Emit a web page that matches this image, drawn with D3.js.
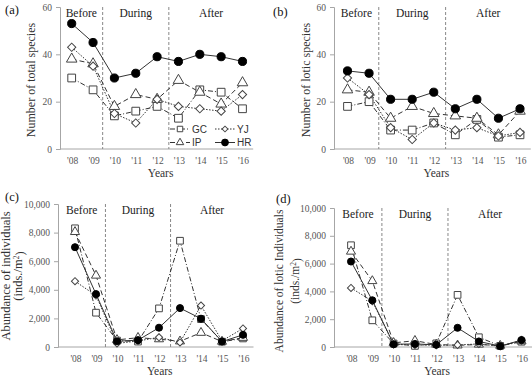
<!DOCTYPE html>
<html>
<head>
<meta charset="utf-8">
<script src="https://cdn.jsdelivr.net/npm/d3@7"></script>
<style>
  body { margin: 0; background: #fff; }
  svg { display: block; font-family: "Liberation Serif", "Times New Roman", serif; }
</style>
</head>
<body>
<svg id="chart" width="532" height="378"></svg>
<script>
const years = ["'08", "'09", "'10", "'11", "'12", "'13", "'14", "'15", "'16"];
const phases = ["Before", "During", "After"];
const phaseBreaks = [1.45, 4.55];
const siteNames = ["GC", "IP", "YJ", "HR"];

// (a) number of total species
const totalGC = [30, 25, 14, 16, 18, 13, 25, 24, 17];
const totalIP = [38, 36, 18, 23, 21, 29, 24, 19, 28];
const totalYJ = [43, 35, 15, 11, 21, 18, 17, 16, 23];
const totalHR = [53, 45, 30, 32, 39, 37, 40, 39, 37];

// (b) number of lotic species
const loticGC = [18, 20, 8, 8, 11, 6, 12.5, 5, 6];
const loticIP = [25, 24, 13, 18, 15, 14, 13, 6, 16];
const loticYJ = [30, 23, 9, 4, 11, 8, 9, 5.5, 7];
const loticHR = [33, 32, 21, 21, 24, 17, 21, 13, 17];

// (c) abundance of individuals
const abundGC = [8300, 2400, 450, 380, 2700, 7430, 1950, 370, 600];
const abundIP = [8050, 5000, 500, 650, 550, 400, 1000, 380, 650];
const abundYJ = [4600, 3600, 250, 420, 680, 320, 2900, 430, 1300];
const abundHR = [6980, 3700, 400, 480, 1350, 2720, 1980, 380, 850];

// (d) abundance of lotic individuals
const loticAbGC = [7320, 1920, 250, 80, 260, 3750, 700, 80, 380];
const loticAbIP = [6870, 4750, 300, 450, 180, 120, 180, 100, 420];
const loticAbYJ = [4250, 3300, 180, 150, 120, 150, 220, 60, 460];
const loticAbHR = [6150, 3360, 200, 220, 160, 1380, 400, 60, 500];

const styles = {
  GC: { dash: "5,2,1,2", symbol: "square" },
  IP: { dash: "5,3", symbol: "triangle" },
  YJ: { dash: "1.5,1.5", symbol: "diamond" },
  HR: { dash: null, symbol: "circle" }
};

const svg = d3.select("#chart");

function markerPath(kind, scale) {
  if (kind === "square") return d3.symbol(d3.symbolSquare, 60 * scale)();
  if (kind === "triangle") return d3.symbol(d3.symbolTriangle, 48 * scale)();
  if (kind === "diamond") return d3.symbol(d3.symbolSquare, 34 * scale)();
  return d3.symbol(d3.symbolCircle, 52 * scale)();
}

function drawPanel(p) {
  const g = svg.append("g");
  const x = d3.scaleLinear().domain([0, years.length - 1]).range([p.x0, p.x1]);
  const step = x(1) - x(0);
  const y = d3.scaleLinear().domain([0, p.max]).range([p.bottom, p.top]);

  // y axis
  const yAxis = d3.axisLeft(y).tickValues(d3.range(0, p.max + 1, p.tick))
    .tickSize(4).tickPadding(4).tickFormat(p.fmt);
  const ya = g.append("g").attr("transform", `translate(${p.left},0)`).call(yAxis)
    .attr("font-family", null).attr("font-size", null);
  ya.select(".domain").attr("stroke", "#a6a6a6");
  ya.selectAll(".tick line").attr("stroke", "#a6a6a6");
  ya.selectAll(".tick text").attr("fill", "#555").style("font-size", "9.5px");

  // x axis
  g.append("line").attr("x1", p.left).attr("x2", x(years.length - 1) + step / 2)
    .attr("y1", p.bottom).attr("y2", p.bottom).attr("stroke", "#a6a6a6");
  g.selectAll(".xt").data(years).join("text")
    .attr("x", (d, i) => x(i) + 1).attr("y", p.bottom + 15)
    .attr("text-anchor", "middle").attr("fill", "#555").style("font-size", "9.5px")
    .text(d => d);
  g.append("text").attr("x", (p.left + x(8) + step / 2) / 2 + 4).attr("y", p.bottom + 28)
    .attr("text-anchor", "middle").attr("fill", "#333").style("font-size", "11.5px").text("Years");

  // phase dividers
  phaseBreaks.forEach(b => {
    g.append("line").attr("x1", x(b)).attr("x2", x(b))
      .attr("y1", p.top).attr("y2", p.bottom)
      .attr("stroke", "#888").attr("stroke-dasharray", "3,2");
  });
  const bounds = [p.left, x(phaseBreaks[0]), x(phaseBreaks[1]), x(8) + step / 2];
  phases.forEach((ph, i) => {
    g.append("text").attr("x", (bounds[i] + bounds[i + 1]) / 2)
      .attr("y", p.top + 10).attr("text-anchor", "middle")
      .attr("fill", "#222").style("font-size", "11.5px").text(ph);
  });

  // y title (one text per line)
  p.title.forEach((t, i) => {
    const yt = g.append("text")
      .attr("transform", `translate(${p.titleX[i]},${p.titleY}) rotate(-90)`)
      .attr("text-anchor", "middle").attr("fill", "#333").style("font-size", p.titleSize);
    if (t.indexOf("m2") >= 0) {
      yt.append("tspan").text(t.replace("m2)", "m"));
      yt.append("tspan").attr("dy", "-0.4em").style("font-size", "7.5px").text("2");
      yt.append("tspan").attr("dy", "0.4em").text(")");
    } else yt.text(t);
  });

  // panel letter
  g.append("text").attr("x", p.labelX).attr("y", p.labelY).attr("fill", "#111")
    .style("font-size", "12.5px").text(p.letter);

  // series
  const line = d3.line().x((d, i) => x(i)).y(d => y(d));
  siteNames.forEach((s, k) => {
    const vals = p.series[k];
    g.append("path").datum(vals).attr("d", line).attr("fill", "none")
      .attr("stroke", "#333").attr("stroke-width", 1)
      .attr("stroke-dasharray", styles[s].dash);
  });
  siteNames.forEach((s, k) => {
    const vals = p.series[k];
    const st = styles[s];
    g.selectAll(".m" + s).data(vals).join("path")
      .attr("d", markerPath(st.symbol, p.mscale))
      .attr("transform", (d, i) => `translate(${x(i)},${y(d)})` + (st.symbol === "diamond" ? " rotate(45)" : ""))
      .attr("fill", st.symbol === "circle" ? "#000" : "#fff")
      .attr("stroke", st.symbol === "circle" ? "#000" : "#444").attr("stroke-width", 1);
  });
  return g;
}

drawPanel({ letter: "(a)", labelX: 5, labelY: 14, left: 60, top: 7, bottom: 149, x0: 71.7, x1: 242.5,
  max: 60, tick: 20, fmt: d3.format("d"), titleX: [35], titleY: 80, titleSize: "12px",
  title: ["Number of total species"], series: [totalGC, totalIP, totalYJ, totalHR], mscale: 1 });
drawPanel({ letter: "(b)", labelX: 273, labelY: 16, left: 334, top: 7, bottom: 149, x0: 347.5, x1: 520,
  max: 60, tick: 20, fmt: d3.format("d"), titleX: [310], titleY: 80, titleSize: "12px",
  title: ["Number of lotic species"], series: [loticGC, loticIP, loticYJ, loticHR], mscale: 1 });
drawPanel({ letter: "(c)", labelX: 5, labelY: 201, left: 58, top: 204, bottom: 347, x0: 75, x1: 243,
  max: 10000, tick: 2000, fmt: d3.format(","), titleX: [10, 22], titleY: 276, titleSize: "12.5px",
  title: ["Abundance of individuals", "(inds./m2)"],
  series: [abundGC, abundIP, abundYJ, abundHR], mscale: 0.75 });
drawPanel({ letter: "(d)", labelX: 276, labelY: 203, left: 334, top: 208, bottom: 347, x0: 351, x1: 521.5,
  max: 10000, tick: 2000, fmt: d3.format(","), titleX: [283, 299], titleY: 281, titleSize: "11.5px",
  title: ["Abundance of lotic Individuals", "(inds./m2)"],
  series: [loticAbGC, loticAbIP, loticAbYJ, loticAbHR], mscale: 0.75 });

// legend in panel (a)
const legend = svg.append("g");
const legendPos = [[170, 129], [170, 142.5], [215, 129], [215, 142.5]];
siteNames.forEach((s, k) => {
  const [lx, ly] = legendPos[k];
  const st = styles[s];
  legend.append("line").attr("x1", lx).attr("x2", lx + 20).attr("y1", ly).attr("y2", ly)
    .attr("stroke", "#333").attr("stroke-dasharray", st.dash);
  legend.append("path").attr("d", markerPath(st.symbol, st.symbol === "circle" ? 0.7 : 0.5))
    .attr("transform", `translate(${lx + 10},${ly})` + (st.symbol === "diamond" ? " rotate(45)" : ""))
    .attr("fill", st.symbol === "circle" ? "#000" : "#fff").attr("stroke", st.symbol === "circle" ? "#000" : "#444");
  legend.append("text").attr("x", lx + 22).attr("y", ly + 3.5).attr("fill", "#333")
    .style("font-size", "10px").style("font-family", "Liberation Sans, Arial, sans-serif").text(s);
});
</script>
</body>
</html>
